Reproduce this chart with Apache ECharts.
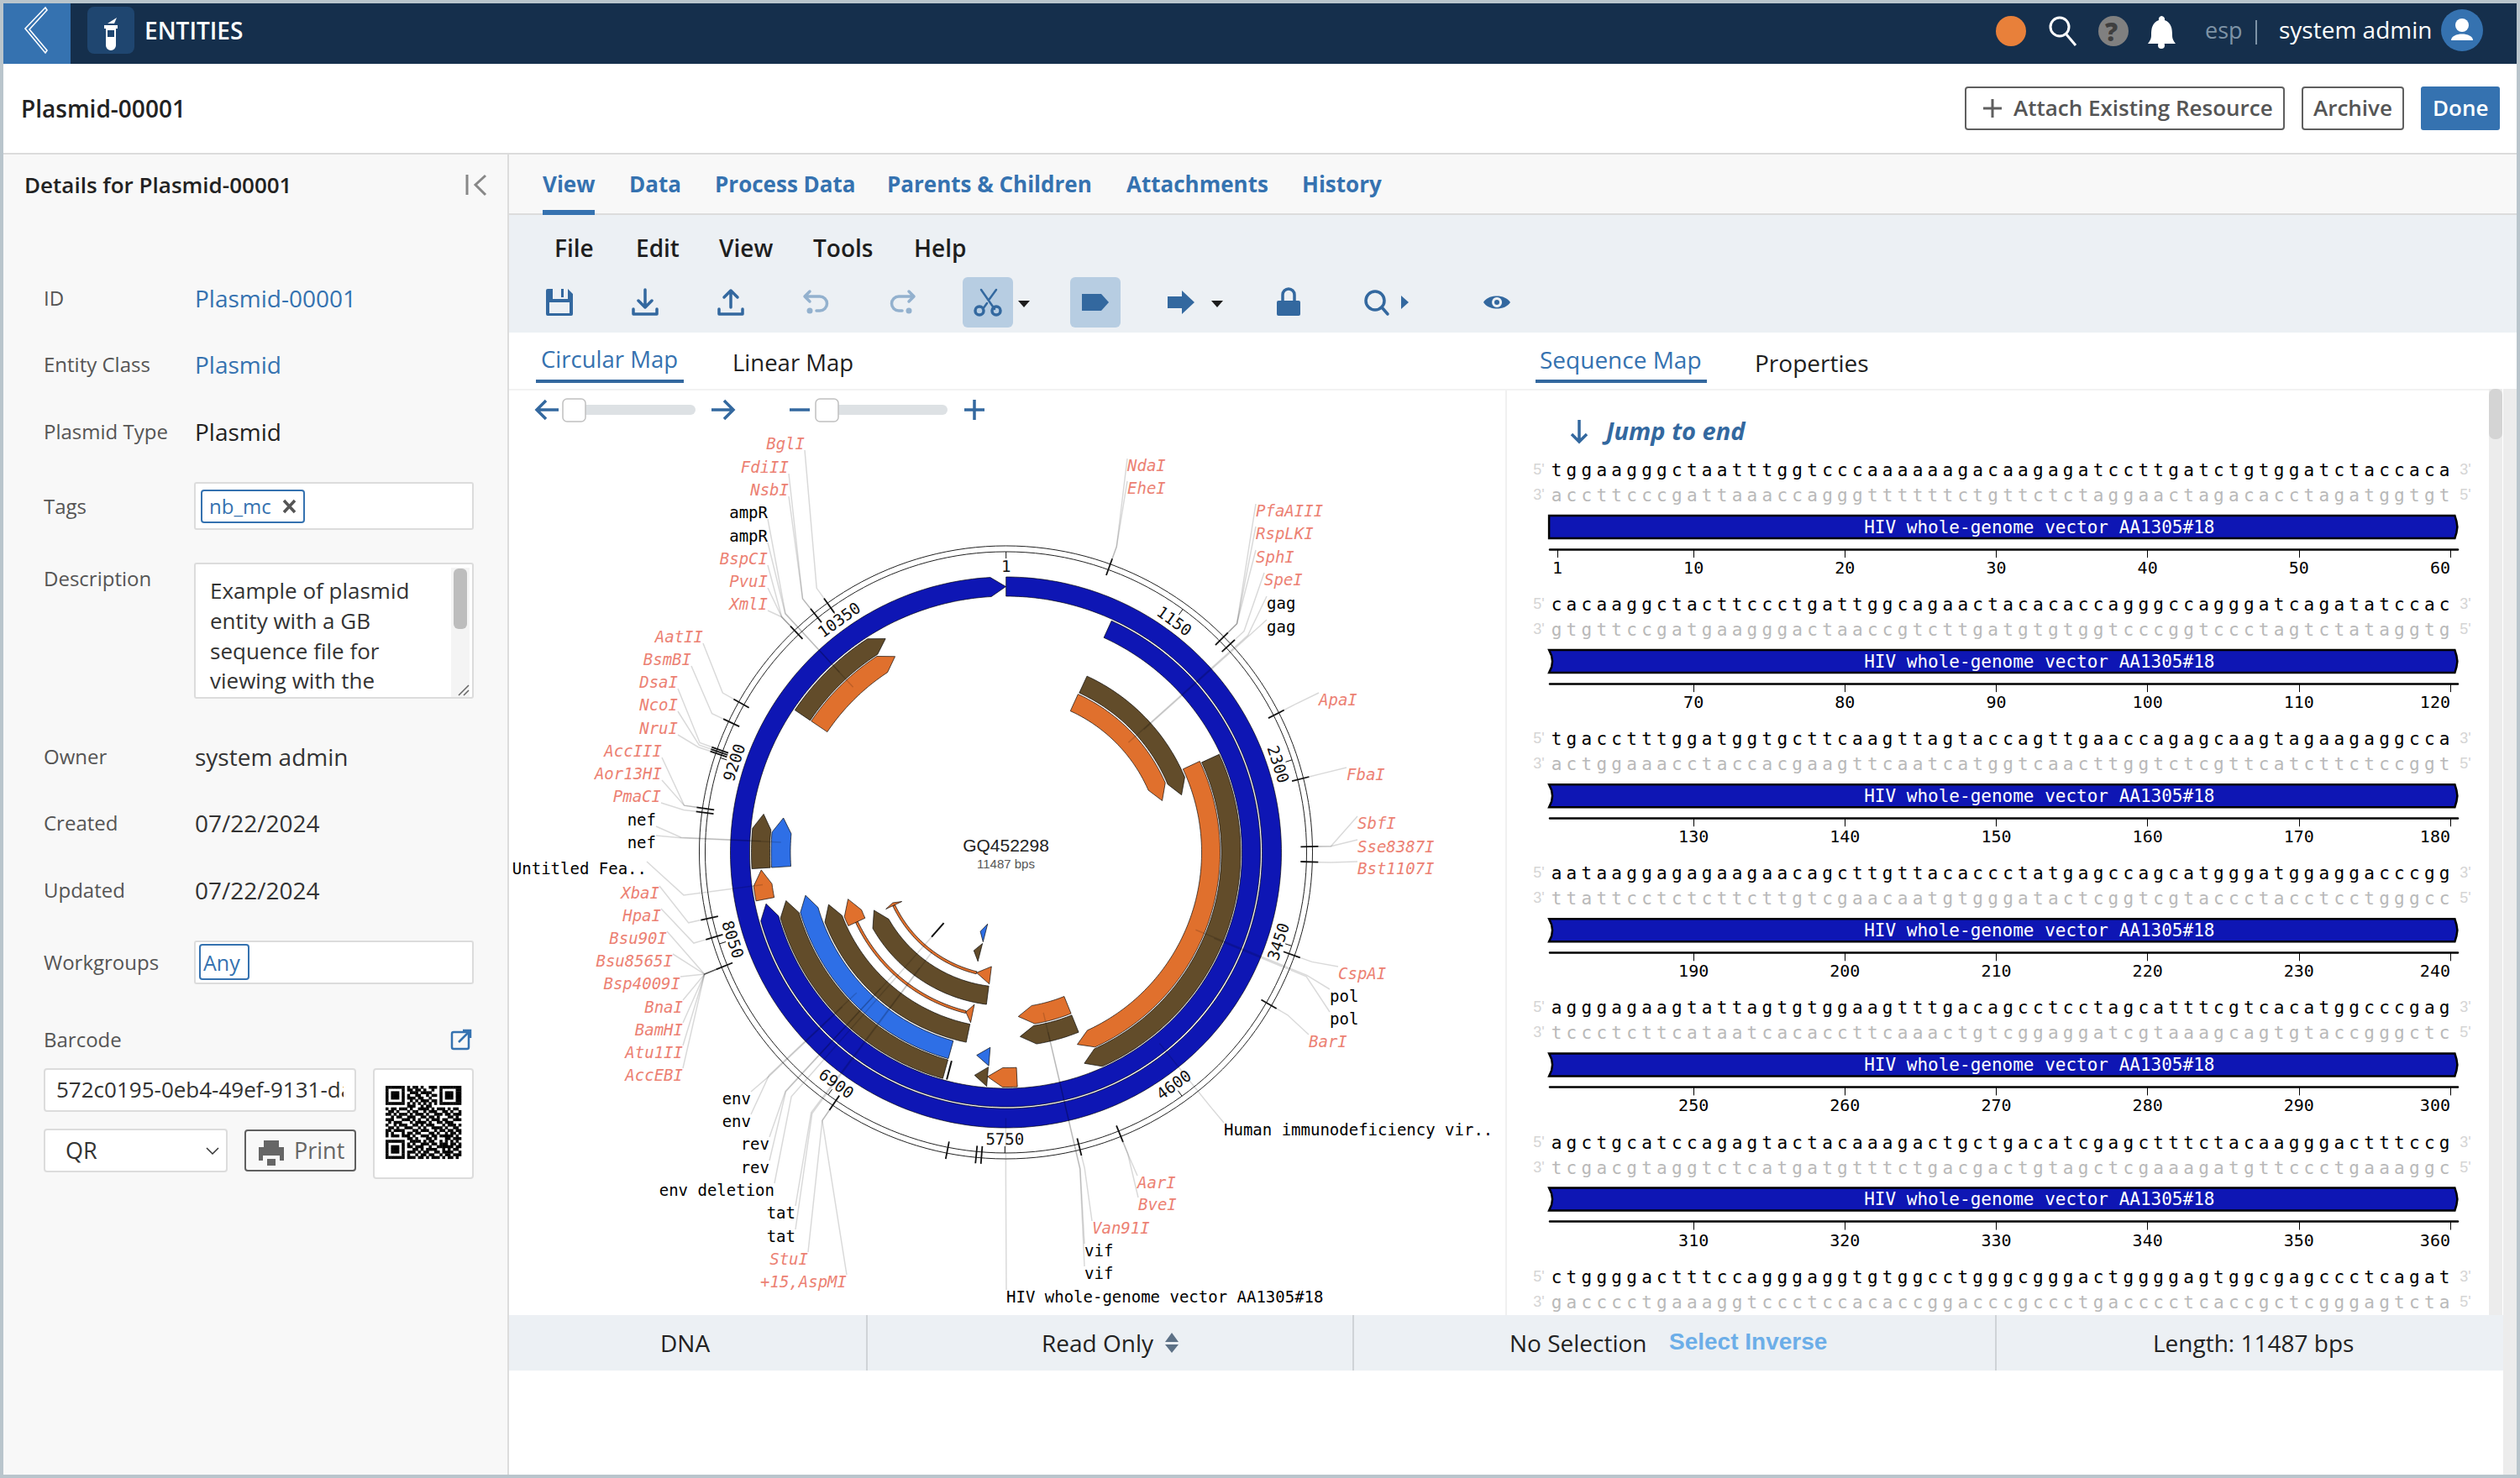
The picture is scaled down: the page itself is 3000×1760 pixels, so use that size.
<!DOCTYPE html>
<html>
<head>
<meta charset="utf-8">
<title>Plasmid-00001</title>
<script src="https://cdn.jsdelivr.net/npm/echarts@6/dist/echarts.min.js"></script>
<style>
  html, body { margin: 0; padding: 0; background: #fff; }
  #page { position: relative; width: 3000px; height: 1760px; overflow: hidden; font-family: "Open Sans", sans-serif; }
  #page > svg { position: absolute; left: 0; top: 0; }
  #texts { position: absolute; left: 0; top: 0; width: 3000px; height: 1760px; }
  #texts div { position: absolute; white-space: nowrap; line-height: 1.3; transform: translateY(-50%); }
  #chart { position: absolute; left: 0; top: 0; width: 3000px; height: 1760px; }
</style>
</head>
<body>
<div id="page">
<svg id="frame" width="3000" height="1760" xmlns="http://www.w3.org/2000/svg">
  <!-- window frame -->
  <rect x="0" y="0" width="3000" height="1760" fill="#fff"/>
  <rect x="4" y="184" width="600" height="1576" fill="#f8f8f8"/>
  <rect x="606" y="184" width="2390" height="70" fill="#f8f8f8"/>
  <rect x="606" y="256" width="2390" height="140" fill="#ecf0f4"/>
  <rect x="2963" y="463" width="16" height="1103" fill="#ececec"/>
  <rect x="2980" y="463" width="16" height="1293" fill="#ececec"/>
  <rect x="606" y="1566" width="2374" height="66" fill="#ecf0f4"/>
  <rect x="4" y="182" width="2992" height="2" fill="#dcdcdc"/>
  <rect x="604" y="184" width="2" height="1576" fill="#dcdcdc"/>
  <rect x="606" y="254" width="2390" height="2" fill="#dcdcdc"/>
  <rect x="646" y="250" width="62" height="6" fill="#3572b0"/>
  <rect x="606" y="463" width="2357" height="2" fill="#f2f2f2"/>
  <rect x="638" y="452" width="176" height="4" fill="#33689f"/>
  <rect x="1828" y="452" width="204" height="4" fill="#33689f"/>
  <rect x="1792" y="465" width="2" height="1101" fill="#f0f0f0"/>
  <rect x="2963" y="463" width="16" height="60" rx="7" fill="#d4d4d4"/>
  <rect x="1031" y="1566" width="2" height="66" fill="#cfd3d7"/>
  <rect x="1610" y="1566" width="2" height="66" fill="#cfd3d7"/>
  <rect x="2375" y="1566" width="2" height="66" fill="#cfd3d7"/>
  <rect x="0" y="0" width="4" height="1760" fill="#b9c5cc"/>
  <rect x="0" y="0" width="3000" height="4" fill="#b9c5cc"/>
  <rect x="0" y="1756" width="3000" height="4" fill="#b9c5cc"/>
  <rect x="2996" y="0" width="4" height="1760" fill="#b9c5cc"/>

  <!-- top bar -->
  <rect x="4" y="4" width="2992" height="72" fill="#152f4c"/>
  <rect x="4" y="4" width="80" height="72" fill="#3572b0"/>
  <path d="M54 9 L30 34 L54 63 L56 60 L35 35 L56 12 Z" fill="none" stroke="#fff" stroke-width="1.6"/>
  <rect x="104" y="8" width="56" height="56" rx="8" fill="#1f4670"/>
  <path d="M124 30 H140 V34 H138 V54 a6 6 0 0 1 -12 0 V34 H124 Z M128 36 V44 H136 V36 Z" fill="#fff" fill-rule="evenodd"/>
  <path d="M128 28 L139 21 L136 28 Z" fill="#fff"/>
  <circle cx="2394" cy="37" r="18" fill="#e8803a"/>
  <circle cx="2452" cy="32" r="11" fill="none" stroke="#fff" stroke-width="3"/>
  <path d="M2460 41 L2471 54" stroke="#fff" stroke-width="3"/>
  <circle cx="2516" cy="37" r="18" fill="#808080"/>
  <path d="M2573 19 a4 4 0 0 1 4 5 c8 3 9 10 9 18 c0 5 2 7 4 10 H2557 c2 -3 4 -5 4 -10 c0 -8 1 -15 9 -18 a4 4 0 0 1 3 -5 Z" fill="#fff"/>
  <circle cx="2573" cy="54" r="4" fill="#fff"/>
  <rect x="2685" y="24" width="2" height="29" fill="#7e93a6"/>
  <circle cx="2931" cy="36" r="25" fill="#3572b0"/>
  <circle cx="2931" cy="30" r="8" fill="#fff"/>
  <path d="M2918 48 c0 -10 26 -10 26 0 Z" fill="#fff"/>

  <!-- title buttons -->
  <rect x="2340" y="104" width="379" height="50" rx="3" fill="#fff" stroke="#5f5f5f" stroke-width="2"/>
  <path d="M2372 118 V140 M2361 129 H2383" stroke="#5f5f5f" stroke-width="3"/>
  <rect x="2741" y="104" width="120" height="50" rx="3" fill="#fff" stroke="#5f5f5f" stroke-width="2"/>
  <rect x="2882" y="103" width="94" height="52" rx="3" fill="#3572b0"/>
  <path d="M556 208 V232 M578 209 L566 220 L578 232" fill="none" stroke="#888" stroke-width="3"/>

  <!-- toolbar -->
  <rect x="1146" y="330" width="60" height="60" rx="6" fill="#b7cde2"/>
  <rect x="1274" y="330" width="60" height="60" rx="6" fill="#b7cde2"/>
  <g fill="#33689f" stroke="none">
    <path d="M650 346 a2 2 0 0 1 2 -2 H676 L682 350 V374 a2 2 0 0 1 -2 2 H652 a2 2 0 0 1 -2 -2 Z M658 344 V356 H676 V344 H671 V354 H668 V344 Z M654 360 V373 H678 V360 Z" fill-rule="evenodd"/>
    <path d="M1288 350 H1311 L1320 360 L1311 370 H1288 Z"/>
    <path d="M1390 353 H1407 V346 L1422 360 L1407 374 V367 H1390 Z"/>
    <rect x="1520" y="358" width="28" height="18" rx="2"/>
    <path d="M1668 352 L1677 360 L1668 368 Z"/>
    <path d="M1766 360 C1772 350 1792 350 1798 360 C1792 370 1772 370 1766 360 Z M1782 354 a6 6 0 1 0 .1 0 Z" fill-rule="evenodd"/>
    <circle cx="1782" cy="360" r="3"/>
  </g>
  <g fill="none" stroke="#33689f" stroke-width="3.5" stroke-linecap="round" stroke-linejoin="round">
    <path d="M768 345 V366 M760 358 L768 366 L776 358 M754 368 V374 H782 V368"/>
    <path d="M870 366 V346 M862 354 L870 346 L878 354 M856 368 V374 H884 V368"/>
    <path d="M1527 358 V351 a7 7 0 0 1 14 0 V358"/>
    <circle cx="1637" cy="358" r="11"/>
    <path d="M1645 366 L1652 374"/>
    <path d="M1168 345 L1184 368 M1186 345 L1178 356 M1170 368 L1175 361" stroke-width="2.5"/>
    <circle cx="1166" cy="370" r="5"/>
    <circle cx="1186" cy="370" r="5"/>
  </g>
  <g fill="none" stroke="#93b1ce" stroke-width="3.5" stroke-linecap="round" stroke-linejoin="round">
    <path d="M964 347 L958 353 L964 359 M960 353 H976 a8 8 0 0 1 0 17 H972"/>
    <path d="M1082 347 L1088 353 L1082 359 M1086 353 H1070 a8 8 0 0 0 0 17 H1074"/>
  </g>
  <circle cx="964" cy="370" r="3.5" fill="#93b1ce"/>
  <circle cx="1082" cy="370" r="3.5" fill="#93b1ce"/>
  <path d="M1212 358 H1226 L1219 366 Z M1442 358 H1456 L1449 366 Z" fill="#1c1c1c"/>

  <!-- map sliders -->
  <rect x="670" y="482" width="158" height="12" rx="6" fill="#dde1e4"/>
  <rect x="971" y="482" width="157" height="12" rx="6" fill="#dde1e4"/>
  <rect x="670" y="475" width="27" height="27" rx="5" fill="#fff" stroke="#c0c0c0" stroke-width="1.5"/>
  <rect x="971" y="475" width="27" height="27" rx="5" fill="#fff" stroke="#c0c0c0" stroke-width="1.5"/>
  <g fill="none" stroke="#33689f" stroke-width="3.5">
    <path d="M665 488 H640 M650 477 L639 488 L650 499"/>
    <path d="M847 488 H872 M862 477 L873 488 L862 499"/>
    <path d="M940 488 H964"/>
    <path d="M1148 488 H1172 M1160 476 V500"/>
    <path d="M1880 500 V526 M1871 517 L1880 526 L1889 517"/>
  </g>

  <!-- sidebar inputs -->
  <g fill="#fff" stroke="#dcdcdc" stroke-width="2">
    <rect x="232" y="575" width="331" height="55" rx="2"/>
    <rect x="232" y="671" width="331" height="160" rx="2"/>
    <rect x="232" y="1121" width="331" height="50" rx="2"/>
    <rect x="53" y="1273" width="370" height="50" rx="3"/>
    <rect x="53" y="1345" width="217" height="50" rx="3"/>
    <rect x="445" y="1273" width="118" height="130" rx="3"/>
  </g>
  <rect x="240" y="584" width="122" height="38" rx="3" fill="#fff" stroke="#3572b0" stroke-width="2"/>
  <path d="M338 596 L351 610 M351 596 L338 610" stroke="#555" stroke-width="3.5"/>
  <rect x="238" y="1125" width="58" height="41" rx="3" fill="#fff" stroke="#3572b0" stroke-width="2"/>
  <rect x="537" y="676" width="22" height="154" fill="#f4f4f4"/>
  <rect x="540" y="677" width="16" height="72" rx="6" fill="#bdbdbd"/>
  <path d="M546 828 L558 816 M552 828 L558 822" stroke="#666" stroke-width="1.5"/>
  <rect x="538" y="1229" width="20" height="20" rx="2" fill="none" stroke="#3572b0" stroke-width="2.5"/>
  <path d="M546 1241 L560 1227 M551 1227 H560 V1236" fill="none" stroke="#3572b0" stroke-width="2.5"/>
  <rect x="292" y="1346" width="131" height="48" rx="3" fill="none" stroke="#5f5f5f" stroke-width="2"/>
  <path d="M314 1358 H332 V1366 H338 V1382 H333 V1376 H313 V1382 H308 V1366 H314 Z M318 1380 H328 V1388 H318 Z" fill="#666" fill-rule="evenodd"/>
  <path d="M246 1367 L253 1374 L260 1367" fill="none" stroke="#333" stroke-width="1.5"/>
  <path d="M1395 1587 L1387 1598 H1403 Z M1387 1601 H1403 L1395 1611 Z" fill="#5d7186"/>
  <g id="qr" fill="#000"></g>
</svg>
<div id="texts"></div>
<div id="chart"></div>
</div>
<script>
// map values (bp)
const sequenceLength = 11487;
const scaleTicks = [1, 1150, 2300, 3450, 4600, 5750, 6900, 8050, 9200, 10350];

const featureKinds = ["arrow", "arrow", "arrow", "arrow", "arrow", "arrow", "arrow", "arrow", "arrow", "arrow", "arrow", "arrow", "arrow", "arrow", "arrow", "arrow", "arrow", "arrow", "arrow", "arrow", "tick", "tick", "tail", "thin", "arrow", "span", "tail", "thin", "arrow", "span"];
const featureStarts = [1, 782, 2084, 2068, 788, 782, 9700, 9700, 8497, 8497, 8264, 6241, 6241, 6120, 5976, 5041, 5041, 5890, 5893, 5654, 7061, 6209, 6117, 6193, 7817, 6117, 5973, 6181, 7808, 5973];
const featureEnds = [11487, 8229, 5093, 5093, 2294, 2288, 10549, 10546, 8902, 8896, 8484, 8220, 8229, 8092, 7859, 5606, 5603, 6005, 5999, 5893, 7061, 6209, 6193, 7817, 8089, 8089, 6181, 7808, 7849, 7849];
const featureTracks = [0, 1, 2, 3, 4, 5, 1, 2, 1, 2, 1, 2, 3, 4, 6, 5, 4, 3, 2, 2, 8, 2, 5, 5, 5, 5, 7, 7, 7, 7];
const featureTypes = ["vector", "vector", "gene", "cds", "gene", "cds", "gene", "cds", "gene", "exon", "cds", "gene", "exon", "gene", "gene", "cds", "gene", "exon", "gene", "cds", "mark", "mark", "cds", "cds", "cds", "cds", "cds", "cds", "cds", "cds"];
const extraFeatureStarts = [6200, 6203];
const extraFeatureEnds = [6315, 6321];
const extraFeatureTracks = [9, 8];
const extraFeatureTypes = ["exon", "gene"];

const siteTicks = [635, 1445, 1503, 2007, 2425, 2837, 2929, 3500, 3829, 5041, 5297, 5890, 5922, 6098, 6841, 7913, 8098, 8216, 8855, 8880, 9218, 9231, 9244, 9422, 9553, 10096, 10252, 10351];

// labels around the map: a number is a cut site, fN points at feature N
const labelNames = ["BglI", "FdiII", "NsbI", "ampR", "ampR", "BspCI", "PvuI", "XmlI", "AatII", "BsmBI", "DsaI", "NcoI", "NruI", "AccIII", "Aor13HI", "PmaCI", "nef", "nef", "Untitled Fea..", "XbaI", "HpaI", "Bsu90I", "Bsu8565I", "Bsp4009I", "BnaI", "BamHI", "Atu1II", "AccEBI", "env", "env", "rev", "rev", "env deletion", "tat", "tat", "StuI", "+15,AspMI", "HIV whole-genome vector AA1305#18", "vif", "vif", "Van91I", "BveI", "AarI", "Human immunodeficiency vir..", "BarI", "pol", "pol", "CspAI", "Bst1107I", "Sse8387I", "SbfI", "FbaI", "ApaI", "gag", "gag", "SpeI", "SphI", "RspLKI", "PfaAIII", "EheI", "NdaI"];
const labelRefs = [10351, 10252, 10252, "f6", "f7", 10096, 10096, 10096, 9553, 9422, 9244, 9231, 9218, 8880, 8880, 8855, "f8", "f9", "f10", 8216, 8098, 7913, 7913, 7913, 7913, 7913, 7913, 7913, "f11", "f12", "f13", "f25", "f20", "f14", "f29", 6841, 6841, "f0", "f15", "f16", 5297, 5041, 5041, "f1", 3829, "f2", "f3", 3500, 2929, 2837, 2837, 2425, 2007, "f4", "f5", 1503, 1445, 1445, 1445, 635, 635];

// sequence rows
const topStrand = [
  "tggaagggctaatttggtcccaaaaaagacaagagatccttgatctgtggatctaccaca",
  "cacaaggctacttccctgattggcagaactacacaccagggccagggatcagatatccac",
  "tgacctttggatggtgcttcaagttagtaccagttgaaccagagcaagtagaagaggcca",
  "aataaggagagaagaacagcttgttacaccctatgagccagcatgggatggaggacccgg",
  "agggagaagtattagtgtggaagtttgacagcctcctagcatttcgtcacatggcccgag",
  "agctgcatccagagtactacaaagactgctgacatcgagctttctacaagggactttccg",
  "ctggggactttccagggaggtgtggcctgggcgggactggggagtggcgagccctcagat"
];
const bottomStrand = [
  "accttcccgattaaaccagggttttttctgttctctaggaactagacacctagatggtgt",
  "gtgttccgatgaagggactaaccgtcttgatgtgtggtcccggtccctagtctataggtg",
  "actggaaacctaccacgaagttcaatcatggtcaacttggtctcgttcatcttctccggt",
  "ttattcctctcttcttgtcgaacaatgtgggatactcggtcgtaccctacctcctgggcc",
  "tccctcttcataatcacaccttcaaactgtcggaggatcgtaaagcagtgtaccgggctc",
  "tcgacgtaggtctcatgatgtttctgacgactgtagctcgaaagatgttccctgaaaggc",
  "gacccctgaaaggtccctccacaccggacccgccctgacccctcaccgctcgggagtcta"
];
const rowTicks = [
  [1, 10, 20, 30, 40, 50, 60],
  [70, 80, 90, 100, 110, 120],
  [130, 140, 150, 160, 170, 180],
  [190, 200, 210, 220, 230, 240],
  [250, 260, 270, 280, 290, 300],
  [310, 320, 330, 340, 350, 360]
];
const rowFeature = "HIV whole-genome vector AA1305#18";

// layout and style of the map, kept apart from the values above
const MONO = '"DejaVu Sans Mono", monospace';
const trackRadii = [[305, 328], [281, 303], [256.5, 279.5], [233, 255], [209, 231], [185, 207], [160.5, 182.5], [137, 158], [112, 134], [88, 110]];
const typeColors = { vector: "#0e16b4", gene: "#624c2a", cds: "#e0702d", exon: "#2e6fe6", mark: "#111" };
const HEAD_PX = 18;
const ELBOW_R = 387;
const labelSlots = [[958, 528], [939, 556], [939, 583], [914, 610], [914, 638], [914, 665], [914, 692], [914, 719], [837, 758], [823, 785], [807, 812], [807, 839], [807, 867], [788, 894], [788, 921], [787, 948], [781, 976], [781, 1003], [770, 1034], [785, 1063], [787, 1090], [794, 1117], [801, 1144], [810, 1171], [813, 1199], [813, 1226], [813, 1253], [813, 1280], [894, 1308], [894, 1335], [916, 1362], [916, 1390], [922, 1417], [947, 1444], [947, 1472], [962, 1499], [1008, 1526], [1198, 1544], [1291, 1516], [1291, 1489], [1300, 1462], [1355, 1434], [1354, 1408], [1457, 1345], [1558, 1240], [1583, 1213], [1583, 1186], [1593, 1159], [1616, 1034], [1616, 1008], [1616, 980], [1603, 922], [1570, 833], [1508, 746], [1508, 718], [1505, 690], [1495, 663], [1495, 635], [1495, 608], [1342, 581], [1342, 554]];
const firstLeftAligned = 37; // labels from here on start at their slot, going round the right side

function bpPerPixel(r) {
  return sequenceLength / (2 * Math.PI * r);
}

// one feature as a polygon, sampled through the polar axes
function featureShape(api, start, end, track, kind) {
  const inner = trackRadii[track][0];
  const outer = trackRadii[track][1];
  const mid = (inner + outer) / 2;
  const pts = [];
  if (kind === "tail") {
    return [api.coord([inner, start]), api.coord([outer, start]), api.coord([mid, end])];
  }
  const rOut = kind === "thin" ? mid + 1.5 : outer;
  const rIn = kind === "thin" ? mid - 1.5 : inner;
  const head = kind === "thin" ? 0 : Math.min(HEAD_PX * bpPerPixel(mid), end - start);
  const bodyEnd = end - head;
  const steps = Math.max(1, Math.ceil((bodyEnd - start) / 30));
  for (let i = 0; i <= steps; i++) pts.push(api.coord([rOut, start + (bodyEnd - start) * i / steps]));
  if (head > 0) pts.push(api.coord([mid, end]));
  for (let i = steps; i >= 0; i--) pts.push(api.coord([rIn, start + (bodyEnd - start) * i / steps]));
  return pts;
}

function renderFeature(params, api) {
  const i = params.dataIndex;
  const start = api.value(0), end = api.value(1), track = api.value(2);
  const kind = params.seriesName === "extra" ? "arrow" : featureKinds[i];
  const type = params.seriesName === "extra" ? extraFeatureTypes[i] : featureTypes[i];
  if (kind === "span") return null;
  if (kind === "tick") {
    const a = api.coord([trackRadii[track][0], start]);
    const b = api.coord([trackRadii[track][1], start]);
    return { type: "line", shape: { x1: a[0], y1: a[1], x2: b[0], y2: b[1] }, style: { stroke: "#111", lineWidth: 2 } };
  }
  return {
    type: "polygon",
    shape: { points: featureShape(api, start, end, track, kind) },
    style: { fill: typeColors[type], stroke: "rgba(0,0,0,0.65)", lineWidth: 1 }
  };
}

function renderRing(params, api) {
  const c = api.coord([0, 0]);
  const top = api.coord([api.value(0), 0]);
  return {
    type: "circle",
    shape: { cx: c[0], cy: c[1], r: Math.abs(c[1] - top[1]) },
    style: { fill: "none", stroke: "#222", lineWidth: 1 }
  };
}

function renderSiteTick(params, api) {
  const a = api.coord([351, api.value(0)]);
  const b = api.coord([372, api.value(0)]);
  return { type: "line", shape: { x1: a[0], y1: a[1], x2: b[0], y2: b[1] }, style: { stroke: "#111", lineWidth: 1.8 } };
}

function renderScaleTick(params, api) {
  const bp = api.value(0);
  const a = api.coord([350, bp]);
  const b = api.coord([358, bp]);
  const p = api.coord([341, bp]);
  let deg = bp / sequenceLength * 360;
  if (deg > 90 && deg < 270) deg -= 180;
  else if (deg >= 270) deg -= 360;
  return {
    type: "group",
    children: [
      { type: "line", shape: { x1: a[0], y1: a[1], x2: b[0], y2: b[1] }, style: { stroke: "#111", lineWidth: 1 } },
      {
        type: "text", x: p[0], y: p[1], rotation: -deg * Math.PI / 180,
        style: { text: String(bp), x: 0, y: 0, align: "center", verticalAlign: "middle", fill: "#111", font: "19px " + MONO }
      }
    ]
  };
}

function renderMapLabel(params, api) {
  const i = params.dataIndex;
  const ref = labelRefs[i];
  let bp, r;
  if (typeof ref === "number") {
    bp = ref;
    r = 372;
  } else {
    const f = Number(ref.slice(1));
    bp = (featureStarts[f] + featureEnds[f]) / 2;
    r = (trackRadii[featureTracks[f]][0] + trackRadii[featureTracks[f]][1]) / 2;
  }
  const slot = labelSlots[i];
  const leftAligned = i >= firstLeftAligned;
  const dy = leftAligned ? -8 : (slot[1] < 1000 ? 8 : -8);
  const from = api.coord([r, bp]);
  const elbow = api.coord([ELBOW_R, bp]);
  const isSite = typeof ref === "number";
  return {
    type: "group",
    children: [
      {
        type: "polyline",
        shape: { points: [from, elbow, [slot[0], slot[1] + dy]] },
        style: { fill: "none", stroke: "rgba(0,0,0,0.15)", lineWidth: 1.5 }
      },
      {
        type: "text",
        style: {
          text: labelNames[i], x: slot[0], y: slot[1],
          align: leftAligned ? "left" : "right", verticalAlign: "middle",
          fill: isSite ? "#ec8173" : "#000",
          font: (isSite ? "italic " : "") + "19px " + MONO
        }
      }
    ]
  };
}

function renderCenter(params, api) {
  const c = api.coord([0, 0]);
  return {
    type: "group",
    children: [
      { type: "text", style: { text: "GQ452298", x: c[0], y: c[1] - 9, align: "center", verticalAlign: "middle", fill: "#222", font: '21px "Liberation Sans"' } },
      { type: "text", style: { text: sequenceLength + " bps", x: c[0], y: c[1] + 13, align: "center", verticalAlign: "middle", fill: "#555", font: '15px "Liberation Sans"' } }
    ]
  };
}

// the letters run a little tighter than the ruler below them
const LETTER_PITCH = 0.9945, LETTER_START = 0.944;

function baseLetter(params, api) {
  const strand = api.value(1) === LANE_TOP ? topStrand : bottomStrand;
  const row = params.seriesIndex - firstRowSeries;
  const base = api.value(0) - row * 60 - 1;
  const p = api.coord([row * 60 + LETTER_START + base * LETTER_PITCH, api.value(1)]);
  return {
    type: "text",
    style: {
      text: strand[row].charAt(base), x: p[0], y: p[1], align: "center", verticalAlign: "middle",
      fill: strand === topStrand ? "#000" : "#b9b9b9", font: "21px " + MONO
    }
  };
}

// vertical lanes inside one sequence row; the x axis sits at the bottom of the grid
const LANE_TOP = 14, LANE_BOTTOM = 44, BAR_TOP = 68, BAR_BOTTOM = 95, GRID_H = 108;
const rowGrids = topStrand.map((s, i) => ({ left: 1845, width: 1081, top: 546 + 160.1 * i, height: GRID_H }));
const rowX = topStrand.map((s, i) => ({
  type: "value", gridIndex: i, min: 60 * i + 0.5, max: 60 * (i + 1) + 0.5, position: "bottom",
  show: i < rowTicks.length,
  splitLine: { show: false },
  axisLine: { show: true, onZero: false, lineStyle: { color: "#000", width: 2.5 } },
  axisTick: { show: true, length: 10, customValues: rowTicks[i] || [], lineStyle: { color: "#000", width: 1 } },
  axisLabel: { show: true, customValues: rowTicks[i] || [], margin: 12, color: "#000", fontFamily: MONO, fontSize: 20, alignMaxLabel: "right" }
}));
const rowY = topStrand.map((s, i) => ({ type: "value", gridIndex: i, min: 0, max: GRID_H, inverse: true, show: false }));

function renderBarRow(params, api) {
  const row = params.seriesIndex - firstBarSeries;
  const first = 60 * row + 0.45;
  const last = 60 * (row + 1) + 0.3;
  const ys = [0, 0.25, 0.5, 0.75, 1];
  const bulge = [0, 2, 3, 2, 0];
  const pts = [];
  const left = row === 0 ? [0, 0, 0, 0, 0] : [0, 3, 4, 3, 0];
  ys.forEach((t, k) => {
    const p = api.coord([last, BAR_TOP + (BAR_BOTTOM - BAR_TOP) * t]);
    pts.push([p[0] + bulge[k], p[1]]);
  });
  ys.slice().reverse().forEach((t, k) => {
    const p = api.coord([first, BAR_TOP + (BAR_BOTTOM - BAR_TOP) * t]);
    pts.push([p[0] + left[k], p[1]]);
  });
  const label = api.coord([60 * row + 32.85, (BAR_TOP + BAR_BOTTOM) / 2]);
  return {
    type: "group",
    children: [
      { type: "polygon", shape: { points: pts }, style: { fill: "#0e16b4", stroke: "#000", lineWidth: 2.5 } },
      { type: "text", style: { text: rowFeature, x: label[0], y: label[1], align: "center", verticalAlign: "middle", fill: "#fff", font: "21px " + MONO } }
    ]
  };
}

function renderPrimes(params, api) {
  const row = params.seriesIndex - firstPrimeSeries;
  const mk = (x, lane, text) => {
    const p = api.coord([60 * row + x, lane]);
    return { type: "text", style: { text, x: p[0], y: p[1] - 1, align: "center", verticalAlign: "middle", fill: "#d5d5d5", font: '18px "Liberation Sans"' } };
  };
  return {
    type: "group",
    children: [mk(-0.22, LANE_TOP, "5'"), mk(61, LANE_TOP, "3'"), mk(-0.22, LANE_BOTTOM, "3'"), mk(61, LANE_BOTTOM, "5'")]
  };
}

// series order matters: rows are found again through seriesIndex
const mapSeries = [
  { type: "custom", coordinateSystem: "polar", silent: true, renderItem: renderRing, data: [[365], [358]] },
  { type: "custom", coordinateSystem: "polar", silent: true, renderItem: renderFeature, data: featureStarts.map((s, i) => [s, featureEnds[i], featureTracks[i]]) },
  { type: "custom", name: "extra", coordinateSystem: "polar", silent: true, renderItem: renderFeature, data: extraFeatureStarts.map((s, i) => [s, extraFeatureEnds[i], extraFeatureTracks[i]]) },
  { type: "custom", coordinateSystem: "polar", silent: true, renderItem: renderSiteTick, data: siteTicks.map(v => [v]) },
  { type: "custom", coordinateSystem: "polar", silent: true, renderItem: renderScaleTick, data: scaleTicks.map(v => [v]) },
  { type: "custom", coordinateSystem: "polar", silent: true, renderItem: renderMapLabel, data: labelNames.map((n, i) => [i]) },
  { type: "custom", coordinateSystem: "polar", silent: true, renderItem: renderCenter, data: [[0]] }
];
const firstRowSeries = mapSeries.length;
const letterSeries = topStrand.map((s, row) => {
  const data = [];
  for (let b = 0; b < 60; b++) {
    data.push([row * 60 + b + 1, LANE_TOP]);
    data.push([row * 60 + b + 1, LANE_BOTTOM]);
  }
  return { type: "custom", coordinateSystem: "cartesian2d", xAxisIndex: row, yAxisIndex: row, silent: true, renderItem: baseLetter, data };
});
const firstBarSeries = firstRowSeries + letterSeries.length;
const barSeries = rowTicks.map((t, row) => ({
  type: "custom", coordinateSystem: "cartesian2d", xAxisIndex: row, yAxisIndex: row, silent: true, renderItem: renderBarRow, data: [[60 * row + 1, BAR_TOP]]
}));
const firstPrimeSeries = firstBarSeries + barSeries.length;
const primeSeries = topStrand.map((s, row) => ({
  type: "custom", coordinateSystem: "cartesian2d", xAxisIndex: row, yAxisIndex: row, silent: true, renderItem: renderPrimes, data: [[60 * row + 1, LANE_TOP]]
}));

const chart = echarts.init(document.getElementById("chart"), null, { renderer: "svg", width: 3000, height: 1760 });
chart.setOption({
  animation: false,
  backgroundColor: "transparent",
  tooltip: { show: false },
  polar: { center: [1197.5, 1015], radius: 400 },
  radiusAxis: { min: 0, max: 400, show: false },
  angleAxis: { type: "value", min: 0, max: sequenceLength, startAngle: 90, clockwise: true, show: false },
  grid: rowGrids,
  xAxis: rowX,
  yAxis: rowY,
  series: mapSeries.concat(letterSeries, barSeries, primeSeries)
});

// page chrome around the chart
const COLOR_LINK = "#3572b0";
const pageTexts = [
  [172, 36, 28, "ENTITIES", "#fff", 600],
  [25, 129, 28, "Plasmid-00001", "#222", 600],
  [29, 221, 26, "Details for Plasmid-00001", "#222", 600],
  [646, 220, 26, "View", COLOR_LINK, 700],
  [749, 220, 26, "Data", COLOR_LINK, 700],
  [851, 220, 26, "Process Data", COLOR_LINK, 700],
  [1056, 220, 26, "Parents & Children", COLOR_LINK, 700],
  [1341, 220, 26, "Attachments", COLOR_LINK, 700],
  [1550, 220, 26, "History", COLOR_LINK, 700],
  [660, 295, 28, "File", "#1e1e1e", 600],
  [757, 295, 28, "Edit", "#1e1e1e", 600],
  [856, 295, 28, "View", "#1e1e1e", 600],
  [968, 295, 28, "Tools", "#1e1e1e", 600],
  [1088, 295, 28, "Help", "#1e1e1e", 600],
  [644, 428, 27.5, "Circular Map", COLOR_LINK, 400],
  [872, 432, 27.5, "Linear Map", "#1e1e1e", 400],
  [1833, 428, 28, "Sequence Map", COLOR_LINK, 400],
  [2089, 432, 28, "Properties", "#1e1e1e", 400],
  [52, 355, 24, "ID", "#555", 400],
  [232, 355, 28, "Plasmid-00001", COLOR_LINK, 400],
  [52, 434, 24, "Entity Class", "#555", 400],
  [232, 434, 28, "Plasmid", COLOR_LINK, 400],
  [52, 514, 24, "Plasmid Type", "#555", 400],
  [232, 514, 28, "Plasmid", "#222", 400],
  [52, 603, 24, "Tags", "#555", 400],
  [249, 603, 24, "nb_mc", COLOR_LINK, 400],
  [52, 689, 24, "Description", "#555", 400],
  [250, 704, 26, "Example of plasmid", "#333", 400],
  [250, 740, 26, "entity with a GB", "#333", 400],
  [250, 776, 26, "sequence file for", "#333", 400],
  [250, 811, 26, "viewing with the", "#333", 400],
  [52, 901, 24, "Owner", "#555", 400],
  [232, 901, 28, "system admin", "#333", 400],
  [52, 980, 24, "Created", "#555", 400],
  [232, 980, 28, "07/22/2024", "#333", 400],
  [52, 1060, 24, "Updated", "#555", 400],
  [232, 1060, 28, "07/22/2024", "#333", 400],
  [52, 1146, 24, "Workgroups", "#555", 400],
  [242, 1146, 25, "Any", COLOR_LINK, 400],
  [52, 1238, 24, "Barcode", "#555", 400],
  [78, 1370, 27, "QR", "#333", 400],
  [350, 1370, 27, "Print", "#666", 400],
  [2625, 36, 27, "esp", "#7e93a6", 400],
  [2713, 35, 28, "system admin", "#fff", 400],
  [2397, 129, 26, "Attach Existing Resource", "#555", 600],
  [2754, 129, 26, "Archive", "#555", 600],
  [2896, 129, 26, "Done", "#fff", 600],
  [786, 1599, 28, "DNA", "#222", 400],
  [1240, 1599, 28, "Read Only", "#222", 400],
  [1797, 1599, 28, "No Selection", "#222", 400],
  [2563, 1599, 28, "Length: 11487 bps", "#222", 400]
];
const textHost = document.getElementById("texts");
function addText(x, y, size, text, color, weight, extra) {
  const el = document.createElement("div");
  el.textContent = text;
  el.style.cssText = `left:${x}px;top:${y}px;font-size:${size}px;color:${color};font-weight:${weight};` + (extra || "");
  textHost.appendChild(el);
}
pageTexts.forEach(t => addText(t[0], t[1], t[2], t[3], t[4], t[5]));
addText(2506, 37, 30, "?", "#3f3f3f", 800);
addText(67, 1298, 26, "572c0195-0eb4-49ef-9131-da", "#333", 400, "width:342px;overflow:hidden;");
addText(1912, 513, 29, "Jump to end", "#33689f", 700, "font-style:italic;");
addText(1987, 1598, 28, "Select Inverse", "#6caee8", 700, "font-family:'Liberation Sans';");

// barcode picture
const qrRows = [
  "1111111010110100111011111111",
  "1000001011011010010010000011",
  "1011101001110111100010111011",
  "1011101010011001011010111011",
  "1011101011101100100010111011",
  "1000001001010111011010000011",
  "1111111010101010101011111111",
  "0000000011100101100000000000",
  "1011011101001111010111010110",
  "0110100010110010111001101001",
  "1101011101011101001110110111",
  "0010110011100110110100011010",
  "1110001110101001011101100111",
  "0101110001011110100110111000",
  "1001011100110101110001011101",
  "0110100111001010011110100110",
  "1101111000110111001011011011",
  "1010001011011000110100101101",
  "1011101110100111011011111010",
  "0000000011010001101000110111",
  "1111111001111010110010101010",
  "1000001010100111011011101101",
  "1011101011011100100111111011",
  "1011101000110101111001010110",
  "1011101011101011001101111001",
  "1000001010010110110010110111",
  "1111111011101101011101011010"
];
const qrHost = document.getElementById("qr");
const qrCell = 90 / qrRows[0].length;
qrRows.forEach((row, y) => {
  row.split("").forEach((c, x) => {
    if (c !== "1") return;
    const r = document.createElementNS("http://www.w3.org/2000/svg", "rect");
    r.setAttribute("x", 459 + x * qrCell);
    r.setAttribute("y", 1293 + y * qrCell);
    r.setAttribute("width", qrCell + 0.3);
    r.setAttribute("height", qrCell + 0.3);
    qrHost.appendChild(r);
  });
});
</script>
</body>
</html>
